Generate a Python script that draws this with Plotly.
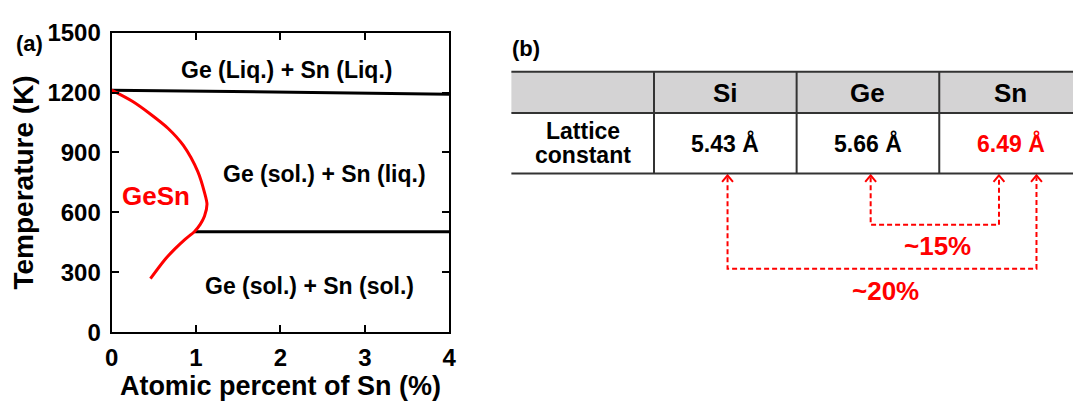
import plotly.graph_objects as go

# ---- Panel (a): Ge-Sn phase diagram (Ge-rich side) ----
liq_x = [0, 4]
liq_T = [1212, 1192]

eut_x = [0.98, 4]
eut_T = [503, 503]

solvus_x = [0, 0.25, 0.45, 0.67, 0.85, 1.02, 1.10, 1.13, 1.10, 1.05, 0.98, 0.87, 0.75, 0.63, 0.46]
solvus_T = [1212, 1155, 1095, 1020, 935, 805, 700, 640, 580, 540, 503, 465, 417, 363, 268]

x_ticks = [0, 1, 2, 3, 4]
y_ticks = [0, 300, 600, 900, 1200, 1500]

region_labels = ["Ge (Liq.) + Sn (Liq.)", "Ge (sol.) + Sn (liq.)", "Ge (sol.) + Sn (sol.)"]
region_x = [2.07, 2.52, 2.35]
region_T = [1313, 791, 230]

# ---- Panel (b): lattice constants ----
elements = ["Si", "Ge", "Sn"]
lattice = [5.43, 5.66, 6.49]
lattice_colors = ["black", "black", "red"]
mismatch_labels = ["~15%", "~20%"]

FONT = "Liberation Sans, Arial, sans-serif"
W, H = 1080, 403
RED = "#ff0000"

fig = go.Figure()

fig.add_trace(go.Scatter(x=liq_x, y=liq_T, mode="lines",
                         line=dict(color="black", width=3), xaxis="x", yaxis="y"))
fig.add_trace(go.Scatter(x=eut_x, y=eut_T, mode="lines",
                         line=dict(color="black", width=3), xaxis="x", yaxis="y"))
fig.add_trace(go.Scatter(x=solvus_x, y=solvus_T, mode="lines",
                         line=dict(color=RED, width=3, shape="spline", smoothing=0.8),
                         xaxis="x", yaxis="y"))


def bold(size, color="black"):
    return dict(family=FONT, size=size, color=color, weight="bold")


annotations = []
for txt, xv, tv in zip(region_labels, region_x, region_T):
    annotations.append(dict(x=xv, y=tv, xref="x", yref="y", text=txt, showarrow=False,
                            font=bold(23)))
annotations.append(dict(x=0.53, y=682, xref="x", yref="y", text="GeSn", showarrow=False,
                        font=bold(26, RED)))
annotations.append(dict(x=23 / W, y=1 - 32 / H, xref="paper", yref="paper", text="(a)",
                        xanchor="center", yanchor="middle", showarrow=False, font=bold(22)))
annotations.append(dict(x=526 / W, y=1 - 37 / H, xref="paper", yref="paper", text="(b)",
                        xanchor="center", yanchor="middle", showarrow=False, font=bold(22)))

# ---- table geometry (x2/y2 run in pixel units) ----
X2_LEFT = 496.8
tbl_left, tbl_right = 511, 1090
col_edges = [511, 655.5, 800, 944.5, 1089]
row_top, row_mid, row_bot = 62, 106, 171
line_col = "#333333"

shapes = [
    dict(type="rect", xref="x2", yref="y2", x0=tbl_left, x1=tbl_right, y0=row_top, y1=row_mid,
         fillcolor="#d4d3d4", line=dict(width=0), layer="below"),
]
for yy in (row_top, row_mid, row_bot):
    shapes.append(dict(type="line", xref="x2", yref="y2", x0=tbl_left, x1=tbl_right, y0=yy, y1=yy,
                       line=dict(color=line_col, width=2)))
for xx in col_edges[1:4]:
    shapes.append(dict(type="line", xref="x2", yref="y2", x0=xx, x1=xx, y0=row_top, y1=row_bot,
                       line=dict(color=line_col, width=2)))

col_centers = [(col_edges[i] + col_edges[i + 1]) / 2 for i in range(4)]
for name, cx in zip(elements, col_centers[1:]):
    annotations.append(dict(x=cx, y=85, xref="x2", yref="y2", text=name, showarrow=False,
                            font=bold(26)))
for val, colr, cx in zip(lattice, lattice_colors, col_centers[1:]):
    annotations.append(dict(x=cx, y=139, xref="x2", yref="y2", text=f"{val:.2f} Å", showarrow=False,
                            font=bold(23, colr)))
annotations.append(dict(x=col_centers[0], y=125, xref="x2", yref="y2", text="Lattice", showarrow=False,
                        font=bold(23)))
annotations.append(dict(x=col_centers[0], y=151, xref="x2", yref="y2", text="constant", showarrow=False,
                        font=bold(23)))

# ---- mismatch brackets ----
tip_y = 173
brackets = [
    (875, 1005, 226, mismatch_labels[0], 943, 249),
    (730, 1043, 273, mismatch_labels[1], 890, 297),
]
for xa, xb, yb, lab, lx, ly in brackets:
    fig.add_trace(go.Scatter(x=[xa, xa, xb, xb], y=[tip_y + 2, yb, yb, tip_y + 2], mode="lines",
                             line=dict(color=RED, width=2, dash="5px,3px"), xaxis="x2", yaxis="y2"))
    for xx in (xa, xb):
        fig.add_trace(go.Scatter(x=[xx - 5.5, xx, xx + 5.5], y=[tip_y + 7, tip_y, tip_y + 7],
                                 mode="lines", line=dict(color=RED, width=2),
                                 xaxis="x2", yaxis="y2"))
    annotations.append(dict(x=lx, y=ly, xref="x2", yref="y2", text=lab, showarrow=False,
                            font=bold(26, RED)))

axis_common = dict(showline=True, linecolor="black", linewidth=2, mirror="ticks",
                   ticks="inside", ticklen=7, tickwidth=2, tickcolor="black",
                   showgrid=False, zeroline=False, tickfont=bold(24))

fig.update_layout(
    width=W, height=H,
    margin=dict(l=0, r=0, t=0, b=0),
    paper_bgcolor="white", plot_bgcolor="white",
    showlegend=False,
    xaxis=dict(domain=[106 / W, 448 / W], range=[0, 4], tickvals=x_ticks, ticklabelstandoff=3,
               title=dict(text="Atomic percent of Sn (%)", standoff=4, font=bold(27)),
               **axis_common),
    yaxis=dict(domain=[1 - 341 / H, 1 - 20 / H], range=[0, 1500], tickvals=y_ticks, ticklabelstandoff=4,
               title=dict(text="Temperature (K)", standoff=6, font=bold(28)),
               **axis_common),
    xaxis2=dict(domain=[X2_LEFT / W, 1], range=[X2_LEFT, W], visible=False, anchor="y2"),
    yaxis2=dict(domain=[0, 1], range=[H, 0], visible=False, anchor="x2"),
    shapes=shapes,
    annotations=annotations,
)

fig.write_html("out.html")
